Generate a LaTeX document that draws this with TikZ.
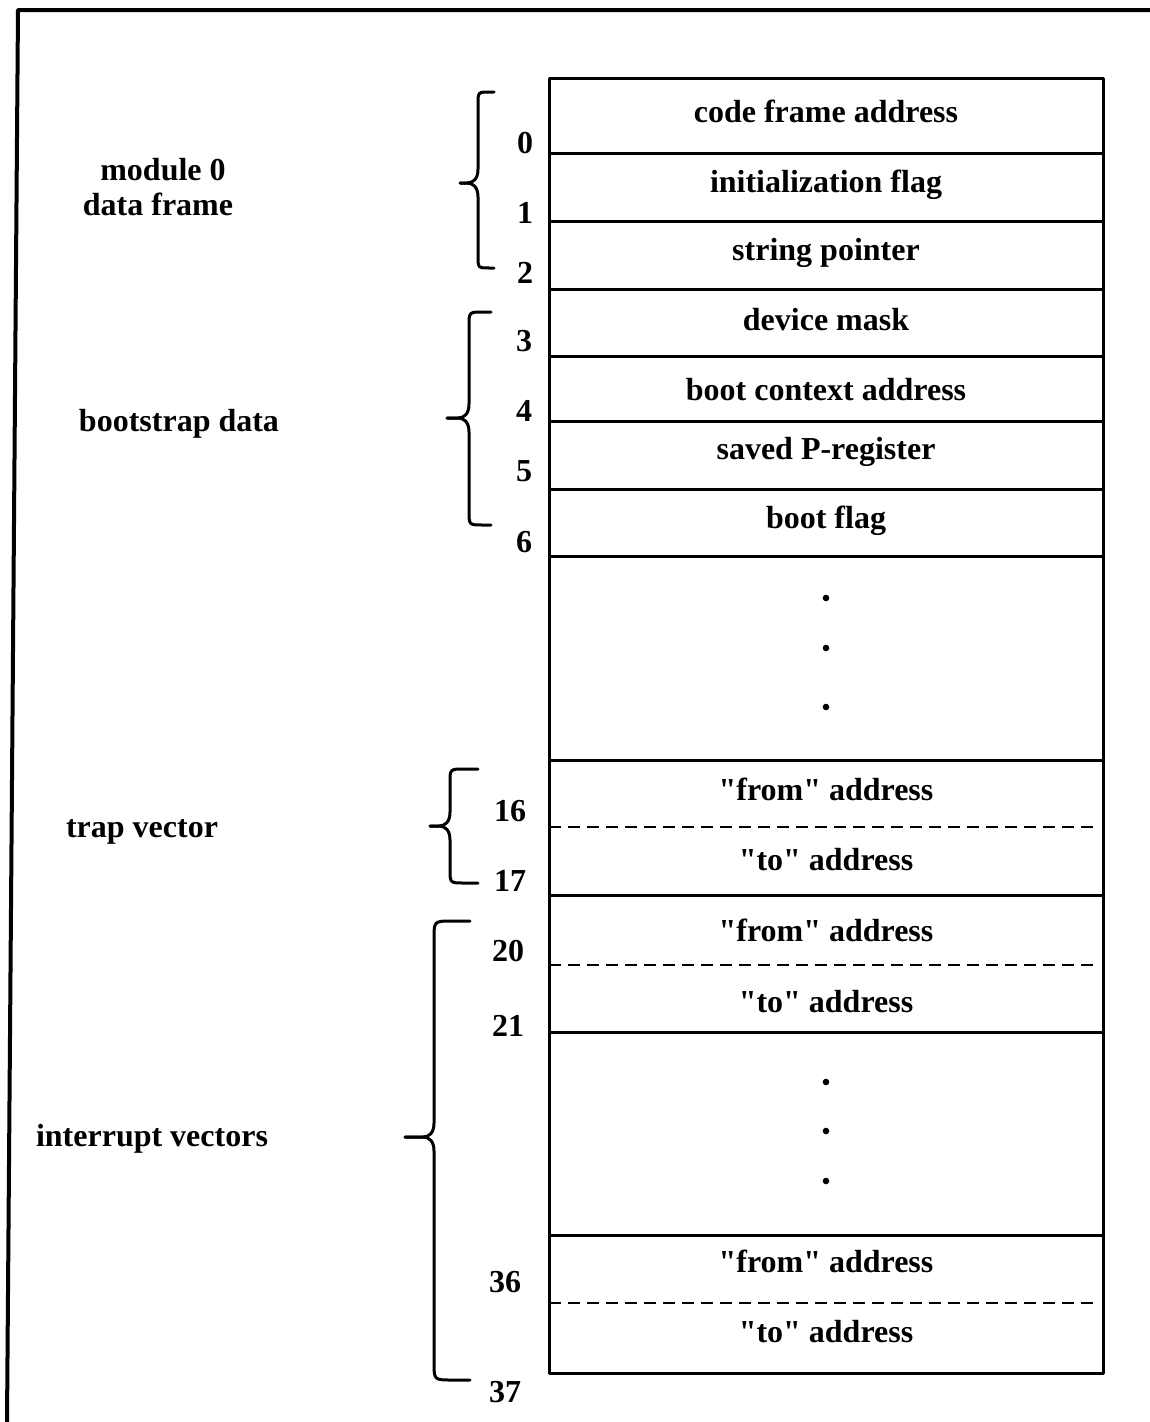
\documentclass[tikz,border=0pt]{standalone}
\usepackage{fontspec}
\setmainfont{Liberation Serif}[Ligatures=TeXOff]
\newcommand\grpbrace[8]{% #1 name, #2 xe, #3 xv, #4 xt, #5 yt, #6 ym, #7 yb, #8 r
  \coordinate (#1) at (#4,#6);
  \draw[brc] (#2,#5) -- ({#3+#8},#5) .. controls (#3,#5) .. (#3,{#5+#8})
    -- (#3,{#6-14}) .. controls (#3,{#6-4}) and ({#3-5},#6) .. ({#3-11},#6) -- (#1);
  \draw[brc] (#1) -- ({#3-11},#6) .. controls ({#3-5},#6) and (#3,{#6+4}) .. (#3,{#6+14})
    -- (#3,{#7-#8}) .. controls (#3,#7) .. ({#3+#8},#7) -- (#2,#7);
}
\begin{document}
\begin{tikzpicture}[x=1pt,y=-1pt,line join=round,
  every node/.style={font=\fontsize{32}{38}\selectfont\bfseries,inner sep=0pt},
  cell/.style={anchor=base},
  idx/.style={anchor=base},
  grp/.style={anchor=base},
  rule/.style={line width=3pt},
  dashrule/.style={line width=2.8pt,dash pattern=on 12pt off 7pt},
  brc/.style={line width=3pt,line cap=round},
  frame/.style={line width=4pt}]
\useasboundingbox (0,0) rectangle (1150,1422);
% outer frame (top and left edges only)
\coordinate (fbl) at (7,1422);
\coordinate (ftl) at (18,10);
\coordinate (ftr) at (1150,10);
\draw[frame] (fbl) -- (ftl) -- (ftr);
% memory box
\coordinate (btl) at (549,78);
\coordinate (bbr) at (1103,1373);
\draw[rule] (btl) rectangle (bbr);
\foreach \y in {153,221,289,356,421,489,556,760,895,1032,1235}
  \draw[rule] (549,\y) -- (1103,\y);
\foreach \y in {827,965,1303}
  \draw[dashrule] (549,\y) -- (1094,\y);
% cell contents
\node[cell] (c0) at (826,122) {code frame address};
\node[cell] (c1) at (826,192) {initialization flag};
\node[cell] (c2) at (826,260) {string pointer};
\node[cell] (c3) at (826,330) {device mask};
\node[cell] (c4) at (826,400) {boot context address};
\node[cell] (c5) at (826,459) {saved P-register};
\node[cell] (c6) at (826,528) {boot flag};
\node[cell] (c16) at (826,800) {"from" address};
\node[cell] (c17) at (826,870) {"to" address};
\node[cell] (c20) at (826,941) {"from" address};
\node[cell] (c21) at (826,1012) {"to" address};
\node[cell] (c36) at (826,1272) {"from" address};
\node[cell] (c37) at (826,1342) {"to" address};
% ellipsis dots
\foreach \y [count=\i] in {598,648,707,1082,1131,1181}
  \fill (826,\y) circle (3.3) coordinate (dot\i);
% indices
\node[idx] (n0) at (525,153) {0};
\node[idx] (n1) at (525,223) {1};
\node[idx] (n2) at (525,283) {2};
\node[idx] (n3) at (524,351) {3};
\node[idx] (n4) at (524,421) {4};
\node[idx] (n5) at (524,481) {5};
\node[idx] (n6) at (524,552) {6};
\node[idx] (n16) at (510,821) {16};
\node[idx] (n17) at (510,891) {17};
\node[idx] (n20) at (508,961) {20};
\node[idx] (n21) at (508,1036) {21};
\node[idx] (n36) at (505,1292) {36};
\node[idx] (n37) at (505,1402) {37};
% group braces
\grpbrace{b1}{494}{478}{460}{92}{183}{268}{12}
\grpbrace{b2}{491}{469}{447}{312}{418}{525}{14}
\grpbrace{b3}{478}{450}{430}{769}{826}{883}{14}
\grpbrace{b4}{470}{434}{405}{921}{1137}{1380}{18}
% group labels
\node[grp] (g1a) at (163,180) {module 0};
\node[grp] (g1b) at (158,215) {data frame};
\node[grp] (g2) at (179,431) {bootstrap data};
\node[grp] (g3) at (142,837) {trap vector};
\node[grp] (g4) at (152,1146) {interrupt vectors};
\end{tikzpicture}
\end{document}
